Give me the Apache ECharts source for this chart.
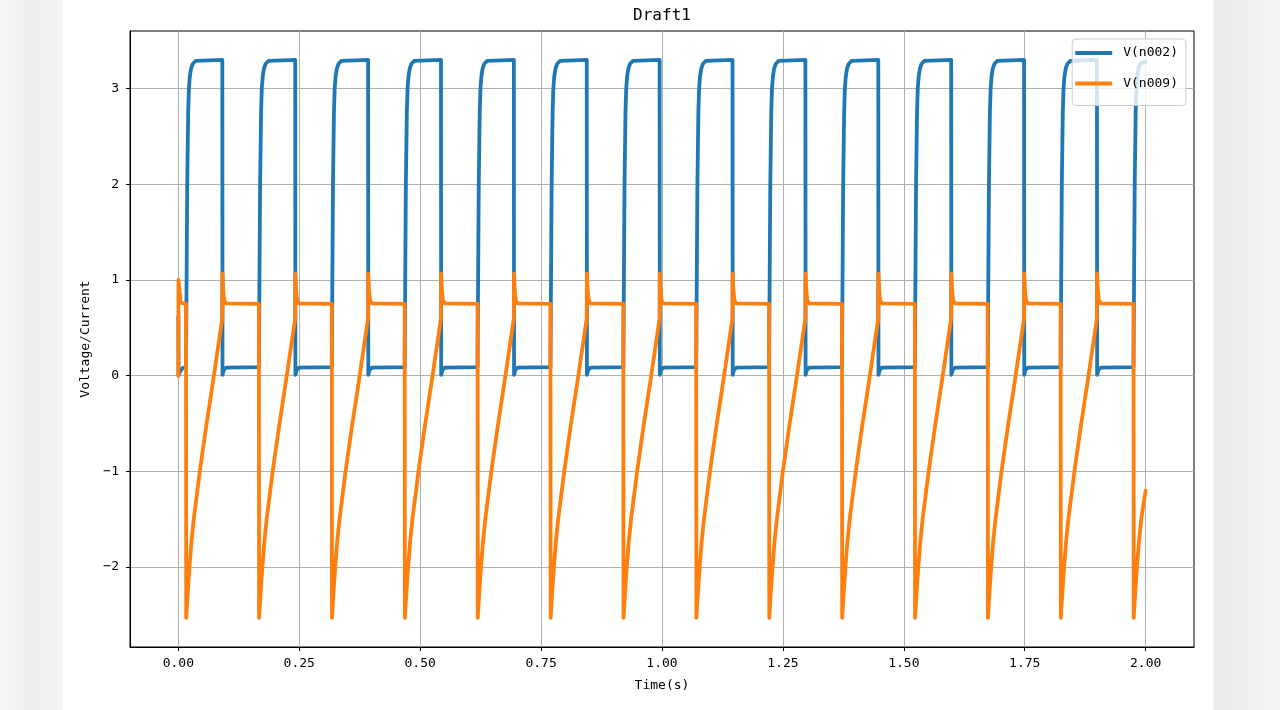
<!DOCTYPE html>
<html>
<head>
<meta charset="utf-8">
<script src="https://cdn.jsdelivr.net/npm/echarts@6/dist/echarts.min.js"></script>
<style>
  html, body { margin: 0; padding: 0; }
  #chart {
    width: 1280px; height: 710px;
    background: linear-gradient(to right, #f6f6f6 0px, #eeeeee 25px, #f1f1f1 55px, #f5f5f5 62px, #ffffff 63px, #ffffff 1213px, #ebebeb 1214px, #eeeeee 1240px, #f4f4f4 1280px);
  }
</style>
</head>
<body>
<div id="chart"></div>
<script>
const titleText = 'Draft1';
const xAxisName = 'Time(s)';
const yAxisName = 'Voltage/Current';
const seriesNames = ['V(n002)', 'V(n009)'];
const xTickValues = [0, 0.25, 0.5, 0.75, 1.0, 1.25, 1.5, 1.75, 2.0];
const yTickValues = [-2, -1, 0, 1, 2, 3];

// V(n002): [time s, volts]
const v002Points = [
  [0, 0.62], [0.0004, 0.0], [0.004, 0.05], [0.009, 0.08],
  [0.0158, 0.09], [0.0183, 2.0], [0.0203, 2.75], [0.0218, 3.0], [0.0238, 3.13], [0.0263, 3.21], [0.0298, 3.26], [0.0358, 3.29], [0.0909, 3.3], [0.0913, 0.01], [0.0939, 0.06], [0.0989, 0.085],
  [0.1665, 0.09], [0.1690, 2.0], [0.1710, 2.75], [0.1725, 3.0], [0.1745, 3.13], [0.1770, 3.21], [0.1805, 3.26], [0.1865, 3.29], [0.2416, 3.3], [0.2420, 0.01], [0.2446, 0.06], [0.2496, 0.085],
  [0.3172, 0.09], [0.3197, 2.0], [0.3217, 2.75], [0.3232, 3.0], [0.3252, 3.13], [0.3277, 3.21], [0.3312, 3.26], [0.3372, 3.29], [0.3923, 3.3], [0.3927, 0.01], [0.3953, 0.06], [0.4003, 0.085],
  [0.4679, 0.09], [0.4704, 2.0], [0.4724, 2.75], [0.4739, 3.0], [0.4759, 3.13], [0.4784, 3.21], [0.4819, 3.26], [0.4879, 3.29], [0.5430, 3.3], [0.5434, 0.01], [0.5460, 0.06], [0.5510, 0.085],
  [0.6186, 0.09], [0.6211, 2.0], [0.6231, 2.75], [0.6246, 3.0], [0.6266, 3.13], [0.6291, 3.21], [0.6326, 3.26], [0.6386, 3.29], [0.6937, 3.3], [0.6941, 0.01], [0.6967, 0.06], [0.7017, 0.085],
  [0.7693, 0.09], [0.7718, 2.0], [0.7738, 2.75], [0.7753, 3.0], [0.7773, 3.13], [0.7798, 3.21], [0.7833, 3.26], [0.7893, 3.29], [0.8444, 3.3], [0.8448, 0.01], [0.8474, 0.06], [0.8524, 0.085],
  [0.9200, 0.09], [0.9225, 2.0], [0.9245, 2.75], [0.9260, 3.0], [0.9280, 3.13], [0.9305, 3.21], [0.9340, 3.26], [0.9400, 3.29], [0.9951, 3.3], [0.9955, 0.01], [0.9981, 0.06], [1.0031, 0.085],
  [1.0707, 0.09], [1.0732, 2.0], [1.0752, 2.75], [1.0767, 3.0], [1.0787, 3.13], [1.0812, 3.21], [1.0847, 3.26], [1.0907, 3.29], [1.1458, 3.3], [1.1462, 0.01], [1.1488, 0.06], [1.1538, 0.085],
  [1.2214, 0.09], [1.2239, 2.0], [1.2259, 2.75], [1.2274, 3.0], [1.2294, 3.13], [1.2319, 3.21], [1.2354, 3.26], [1.2414, 3.29], [1.2965, 3.3], [1.2969, 0.01], [1.2995, 0.06], [1.3045, 0.085],
  [1.3721, 0.09], [1.3746, 2.0], [1.3766, 2.75], [1.3781, 3.0], [1.3801, 3.13], [1.3826, 3.21], [1.3861, 3.26], [1.3921, 3.29], [1.4472, 3.3], [1.4476, 0.01], [1.4502, 0.06], [1.4552, 0.085],
  [1.5228, 0.09], [1.5253, 2.0], [1.5273, 2.75], [1.5288, 3.0], [1.5308, 3.13], [1.5333, 3.21], [1.5368, 3.26], [1.5428, 3.29], [1.5979, 3.3], [1.5983, 0.01], [1.6009, 0.06], [1.6059, 0.085],
  [1.6735, 0.09], [1.6760, 2.0], [1.6780, 2.75], [1.6795, 3.0], [1.6815, 3.13], [1.6840, 3.21], [1.6875, 3.26], [1.6935, 3.29], [1.7486, 3.3], [1.7490, 0.01], [1.7516, 0.06], [1.7566, 0.085],
  [1.8242, 0.09], [1.8267, 2.0], [1.8287, 2.75], [1.8302, 3.0], [1.8322, 3.13], [1.8347, 3.21], [1.8382, 3.26], [1.8442, 3.29], [1.8993, 3.3], [1.8997, 0.01], [1.9023, 0.06], [1.9073, 0.085],
  [1.9749, 0.09], [1.9774, 2.0], [1.9794, 2.75], [1.9809, 3.0], [1.9829, 3.13], [1.9854, 3.21], [1.9889, 3.26], [2.0, 3.28]
];

// V(n009): [time s, volts]
const v009Points = [
  [0, 0.0], [0.0002, 1.0], [0.005, 0.76],
  [0.0158, 0.75], [0.0162, -2.53], [0.0192, -2.28], [0.0230, -2.0], [0.0268, -1.75], [0.0318, -1.5], [0.0443, -1.0], [0.0575, -0.53], [0.0720, -0.05], [0.0909, 0.60], [0.0912, 1.07], [0.0929, 0.88], [0.0949, 0.79], [0.0989, 0.755],
  [0.1665, 0.75], [0.1669, -2.53], [0.1699, -2.28], [0.1737, -2.0], [0.1775, -1.75], [0.1825, -1.5], [0.1950, -1.0], [0.2082, -0.53], [0.2227, -0.05], [0.2416, 0.60], [0.2419, 1.07], [0.2436, 0.88], [0.2456, 0.79], [0.2496, 0.755],
  [0.3172, 0.75], [0.3176, -2.53], [0.3206, -2.28], [0.3244, -2.0], [0.3282, -1.75], [0.3332, -1.5], [0.3457, -1.0], [0.3589, -0.53], [0.3734, -0.05], [0.3923, 0.60], [0.3926, 1.07], [0.3943, 0.88], [0.3963, 0.79], [0.4003, 0.755],
  [0.4679, 0.75], [0.4683, -2.53], [0.4713, -2.28], [0.4751, -2.0], [0.4789, -1.75], [0.4839, -1.5], [0.4964, -1.0], [0.5096, -0.53], [0.5241, -0.05], [0.5430, 0.60], [0.5433, 1.07], [0.5450, 0.88], [0.5470, 0.79], [0.5510, 0.755],
  [0.6186, 0.75], [0.6190, -2.53], [0.6220, -2.28], [0.6258, -2.0], [0.6296, -1.75], [0.6346, -1.5], [0.6471, -1.0], [0.6603, -0.53], [0.6748, -0.05], [0.6937, 0.60], [0.6940, 1.07], [0.6957, 0.88], [0.6977, 0.79], [0.7017, 0.755],
  [0.7693, 0.75], [0.7697, -2.53], [0.7727, -2.28], [0.7765, -2.0], [0.7803, -1.75], [0.7853, -1.5], [0.7978, -1.0], [0.8110, -0.53], [0.8255, -0.05], [0.8444, 0.60], [0.8447, 1.07], [0.8464, 0.88], [0.8484, 0.79], [0.8524, 0.755],
  [0.9200, 0.75], [0.9204, -2.53], [0.9234, -2.28], [0.9272, -2.0], [0.9310, -1.75], [0.9360, -1.5], [0.9485, -1.0], [0.9617, -0.53], [0.9762, -0.05], [0.9951, 0.60], [0.9954, 1.07], [0.9971, 0.88], [0.9991, 0.79], [1.0031, 0.755],
  [1.0707, 0.75], [1.0711, -2.53], [1.0741, -2.28], [1.0779, -2.0], [1.0817, -1.75], [1.0867, -1.5], [1.0992, -1.0], [1.1124, -0.53], [1.1269, -0.05], [1.1458, 0.60], [1.1461, 1.07], [1.1478, 0.88], [1.1498, 0.79], [1.1538, 0.755],
  [1.2214, 0.75], [1.2218, -2.53], [1.2248, -2.28], [1.2286, -2.0], [1.2324, -1.75], [1.2374, -1.5], [1.2499, -1.0], [1.2631, -0.53], [1.2776, -0.05], [1.2965, 0.60], [1.2968, 1.07], [1.2985, 0.88], [1.3005, 0.79], [1.3045, 0.755],
  [1.3721, 0.75], [1.3725, -2.53], [1.3755, -2.28], [1.3793, -2.0], [1.3831, -1.75], [1.3881, -1.5], [1.4006, -1.0], [1.4138, -0.53], [1.4283, -0.05], [1.4472, 0.60], [1.4475, 1.07], [1.4492, 0.88], [1.4512, 0.79], [1.4552, 0.755],
  [1.5228, 0.75], [1.5232, -2.53], [1.5262, -2.28], [1.5300, -2.0], [1.5338, -1.75], [1.5388, -1.5], [1.5513, -1.0], [1.5645, -0.53], [1.5790, -0.05], [1.5979, 0.60], [1.5982, 1.07], [1.5999, 0.88], [1.6019, 0.79], [1.6059, 0.755],
  [1.6735, 0.75], [1.6739, -2.53], [1.6769, -2.28], [1.6807, -2.0], [1.6845, -1.75], [1.6895, -1.5], [1.7020, -1.0], [1.7152, -0.53], [1.7297, -0.05], [1.7486, 0.60], [1.7489, 1.07], [1.7506, 0.88], [1.7526, 0.79], [1.7566, 0.755],
  [1.8242, 0.75], [1.8246, -2.53], [1.8276, -2.28], [1.8314, -2.0], [1.8352, -1.75], [1.8402, -1.5], [1.8527, -1.0], [1.8659, -0.53], [1.8804, -0.05], [1.8993, 0.60], [1.8996, 1.07], [1.9013, 0.88], [1.9033, 0.79], [1.9073, 0.755],
  [1.9749, 0.75], [1.9753, -2.53], [1.9783, -2.28], [1.9821, -2.0], [1.9859, -1.75], [1.9909, -1.5], [2.0, -1.2]
];

const FONT = 'DejaVu Sans Mono';
const chart = echarts.init(document.getElementById('chart'), null, { renderer: 'canvas' });

function minusFmt(v) {
  return v < 0 ? '\u2212' + Math.abs(v) : String(v);
}

chart.setOption({
  animation: false,
  backgroundColor: 'transparent',
  title: {
    text: titleText,
    left: 662,
    top: 8,
    textAlign: 'center',
    padding: 0,
    textStyle: { fontFamily: FONT, fontSize: 16, fontWeight: 'normal', color: '#000' }
  },
  legend: {
    orient: 'vertical',
    right: 94,
    top: 39,
    padding: [7.5, 8, 15.5, 3],
    itemGap: 17.5,
    itemWidth: 37,
    itemHeight: 4,
    icon: 'rect',
    backgroundColor: 'rgba(255,255,255,0.8)',
    borderColor: '#cccccc',
    borderWidth: 1,
    borderRadius: 4,
    textStyle: { fontFamily: FONT, fontSize: 13, color: '#000', padding: [0, 0, 0, 6] },
    data: seriesNames
  },
  grid: {
    left: 130, right: 86, top: 31, bottom: 63,
    show: true, borderColor: '#000', borderWidth: 1, backgroundColor: 'transparent',
    containLabel: false
  },
  xAxis: {
    type: 'value',
    min: -0.1, max: 2.1,
    name: xAxisName,
    nameLocation: 'middle',
    nameGap: 32,
    nameTextStyle: { fontFamily: FONT, fontSize: 13, color: '#000' },
    axisLine: { show: true, onZero: false, lineStyle: { color: '#000', width: 1 } },
    axisTick: { show: true, inside: false, length: 4, customValues: xTickValues, lineStyle: { color: '#000' } },
    axisLabel: {
      customValues: xTickValues, margin: 10, fontFamily: FONT, fontSize: 13, color: '#000',
      formatter: v => v.toFixed(2)
    },
    splitLine: { show: true, lineStyle: { color: '#b0b0b0', width: 1 } }
  },
  yAxis: {
    type: 'value',
    min: -2.835, max: 3.602,
    name: yAxisName,
    nameLocation: 'middle',
    nameGap: 33,
    nameRotate: 90,
    nameTextStyle: { fontFamily: FONT, fontSize: 13, color: '#000' },
    axisLine: { show: true, onZero: false, lineStyle: { color: '#000', width: 1 } },
    axisTick: { show: true, inside: false, length: 4, customValues: yTickValues, lineStyle: { color: '#000' } },
    axisLabel: {
      customValues: yTickValues, margin: 11, fontFamily: FONT, fontSize: 13, color: '#000',
      formatter: v => minusFmt(v)
    },
    splitLine: { show: true, lineStyle: { color: '#b0b0b0', width: 1 } }
  },
  series: [
    {
      name: seriesNames[0], type: 'line', data: v002Points,
      showSymbol: false, symbol: 'none', smooth: false,
      color: '#1f77b4',
      lineStyle: { color: '#1f77b4', width: 3.8, cap: 'round', join: 'round' },
      z: 2
    },
    {
      name: seriesNames[1], type: 'line', data: v009Points,
      showSymbol: false, symbol: 'none', smooth: false,
      color: '#ff7f0e',
      lineStyle: { color: '#ff7f0e', width: 3.8, cap: 'round', join: 'round' },
      z: 3
    }
  ]
});
</script>
</body>
</html>
